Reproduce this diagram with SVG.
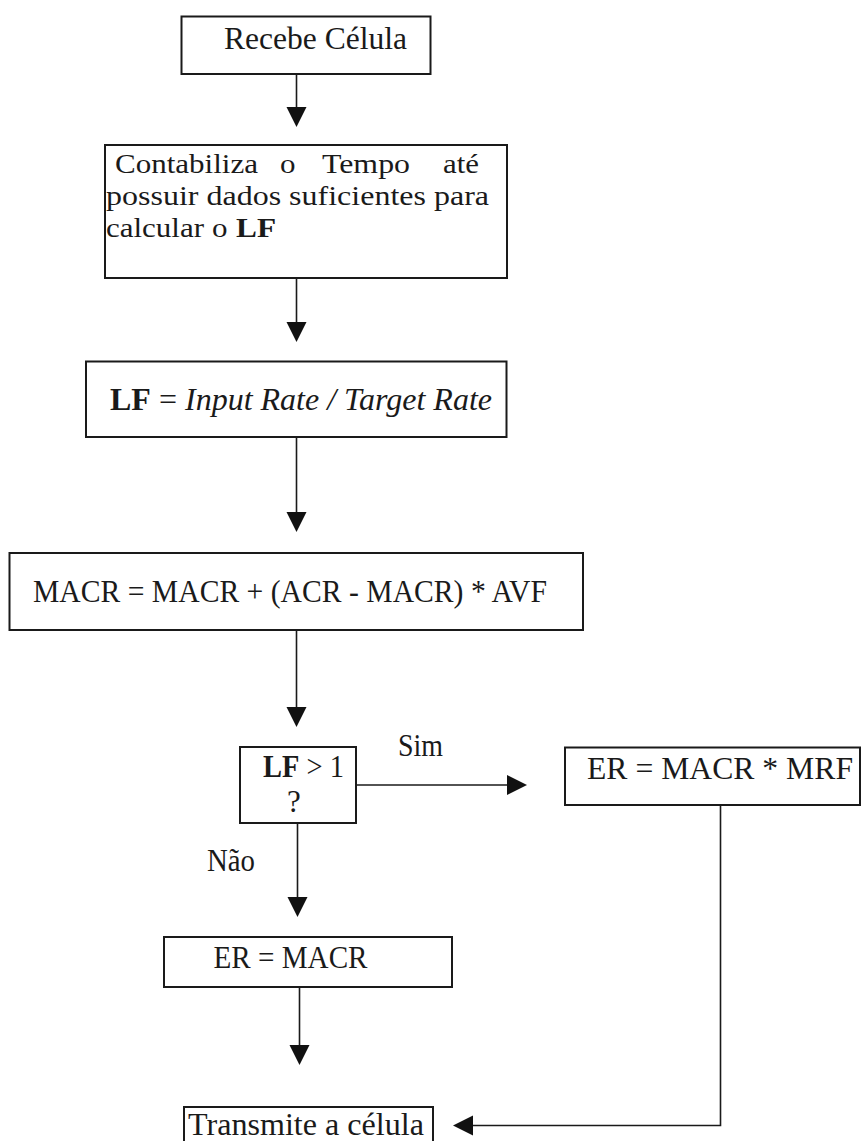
<svg xmlns="http://www.w3.org/2000/svg" width="863" height="1141" viewBox="0 0 863 1141">
<style>
.box{fill:#fff;stroke:#1a1a1a;stroke-width:2}
.t{font-family:"Liberation Serif","Times New Roman",serif;font-size:31px;fill:#1a1a1a}
.s{font-size:28px}
.b{font-weight:bold}
.i{font-style:italic}
.ln{stroke:#1a1a1a;stroke-width:1.6;fill:none}
.hd{fill:#111}
</style>
<rect width="863" height="1141" fill="#fff"/>
<g id="connectors">
<line class="ln" x1="296.5" y1="74" x2="296.5" y2="109"/>
<polygon class="hd" points="286.5,107 306.5,107 296.5,127"/>
<line class="ln" x1="296.5" y1="278" x2="296.5" y2="324"/>
<polygon class="hd" points="286.5,322 306.5,322 296.5,342"/>
<line class="ln" x1="296.5" y1="437" x2="296.5" y2="514"/>
<polygon class="hd" points="286.5,512 306.5,512 296.5,532"/>
<line class="ln" x1="296.5" y1="630" x2="296.5" y2="709"/>
<polygon class="hd" points="286.5,707 306.5,707 296.5,727"/>
<line class="ln" x1="356" y1="785" x2="509" y2="785"/>
<polygon class="hd" points="507,775 507,795 527,785"/>
<line class="ln" x1="297.5" y1="823" x2="297.5" y2="899"/>
<polygon class="hd" points="287.5,897 307.5,897 297.5,917"/>
<line class="ln" x1="299.5" y1="987" x2="299.5" y2="1047"/>
<polygon class="hd" points="289.5,1045 309.5,1045 299.5,1065"/>
<polyline class="ln" points="720.5,805 720.5,1125.5 471,1125.5"/>
<polygon class="hd" points="473,1115.5 473,1135.5 453,1125.5"/>
<text class="t" x="398" y="756" textLength="45" lengthAdjust="spacingAndGlyphs">Sim</text>
<text class="t" x="207" y="871" textLength="48" lengthAdjust="spacingAndGlyphs">Não</text>
</g>
<g id="n1">
<rect class="box" x="181.5" y="16.5" width="249" height="57.5"/>
<text class="t" x="224" y="49" textLength="183" lengthAdjust="spacingAndGlyphs">Recebe Célula</text>
</g>
<g id="n2">
<rect class="box" x="105" y="145" width="402" height="133"/>
<text class="t s"><tspan x="115" y="172.5" textLength="143" lengthAdjust="spacingAndGlyphs">Contabiliza</tspan><tspan x="280" y="172.5" textLength="15.5" lengthAdjust="spacingAndGlyphs">o</tspan><tspan x="322" y="172.5" textLength="88" lengthAdjust="spacingAndGlyphs">Tempo</tspan><tspan x="443" y="172.5" textLength="36" lengthAdjust="spacingAndGlyphs">até</tspan><tspan x="106" y="204.5" textLength="383" lengthAdjust="spacingAndGlyphs">possuir dados suficientes para</tspan><tspan x="106" y="237" textLength="98" lengthAdjust="spacingAndGlyphs">calcular</tspan><tspan x="212" y="237" textLength="15.5" lengthAdjust="spacingAndGlyphs">o</tspan><tspan x="236" y="237" class="b" textLength="40" lengthAdjust="spacingAndGlyphs">LF</tspan></text>
</g>
<g id="n3">
<rect class="box" x="86" y="361.5" width="420.5" height="75.5"/>
<text class="t" x="110" y="410" textLength="382" lengthAdjust="spacingAndGlyphs"><tspan class="b">LF</tspan> = <tspan class="i">Input Rate / Target Rate</tspan></text>
</g>
<g id="n4">
<rect class="box" x="9.5" y="553" width="573.5" height="77"/>
<text class="t" x="33" y="601.5" textLength="514" lengthAdjust="spacingAndGlyphs">MACR = MACR + (ACR - MACR) * AVF</text>
</g>
<g id="n5">
<rect class="box" x="240" y="747" width="116" height="76"/>
<text class="t" x="263" y="777" textLength="81" lengthAdjust="spacingAndGlyphs"><tspan class="b">LF</tspan> &gt; 1</text>
<text class="t" x="287" y="812">?</text>
</g>
<g id="n6">
<rect class="box" x="565" y="747.5" width="295" height="57.5"/>
<text class="t" x="587" y="779" textLength="266" lengthAdjust="spacingAndGlyphs">ER = MACR * MRF</text>
</g>
<g id="n7">
<rect class="box" x="164" y="937" width="288" height="50"/>
<text class="t" x="213.5" y="968" textLength="154" lengthAdjust="spacingAndGlyphs">ER = MACR</text>
</g>
<g id="n8">
<rect class="box" x="184" y="1107" width="249" height="44"/>
<text class="t" x="188" y="1135" textLength="236" lengthAdjust="spacingAndGlyphs">Transmite a célula</text>
</g>
</svg>
